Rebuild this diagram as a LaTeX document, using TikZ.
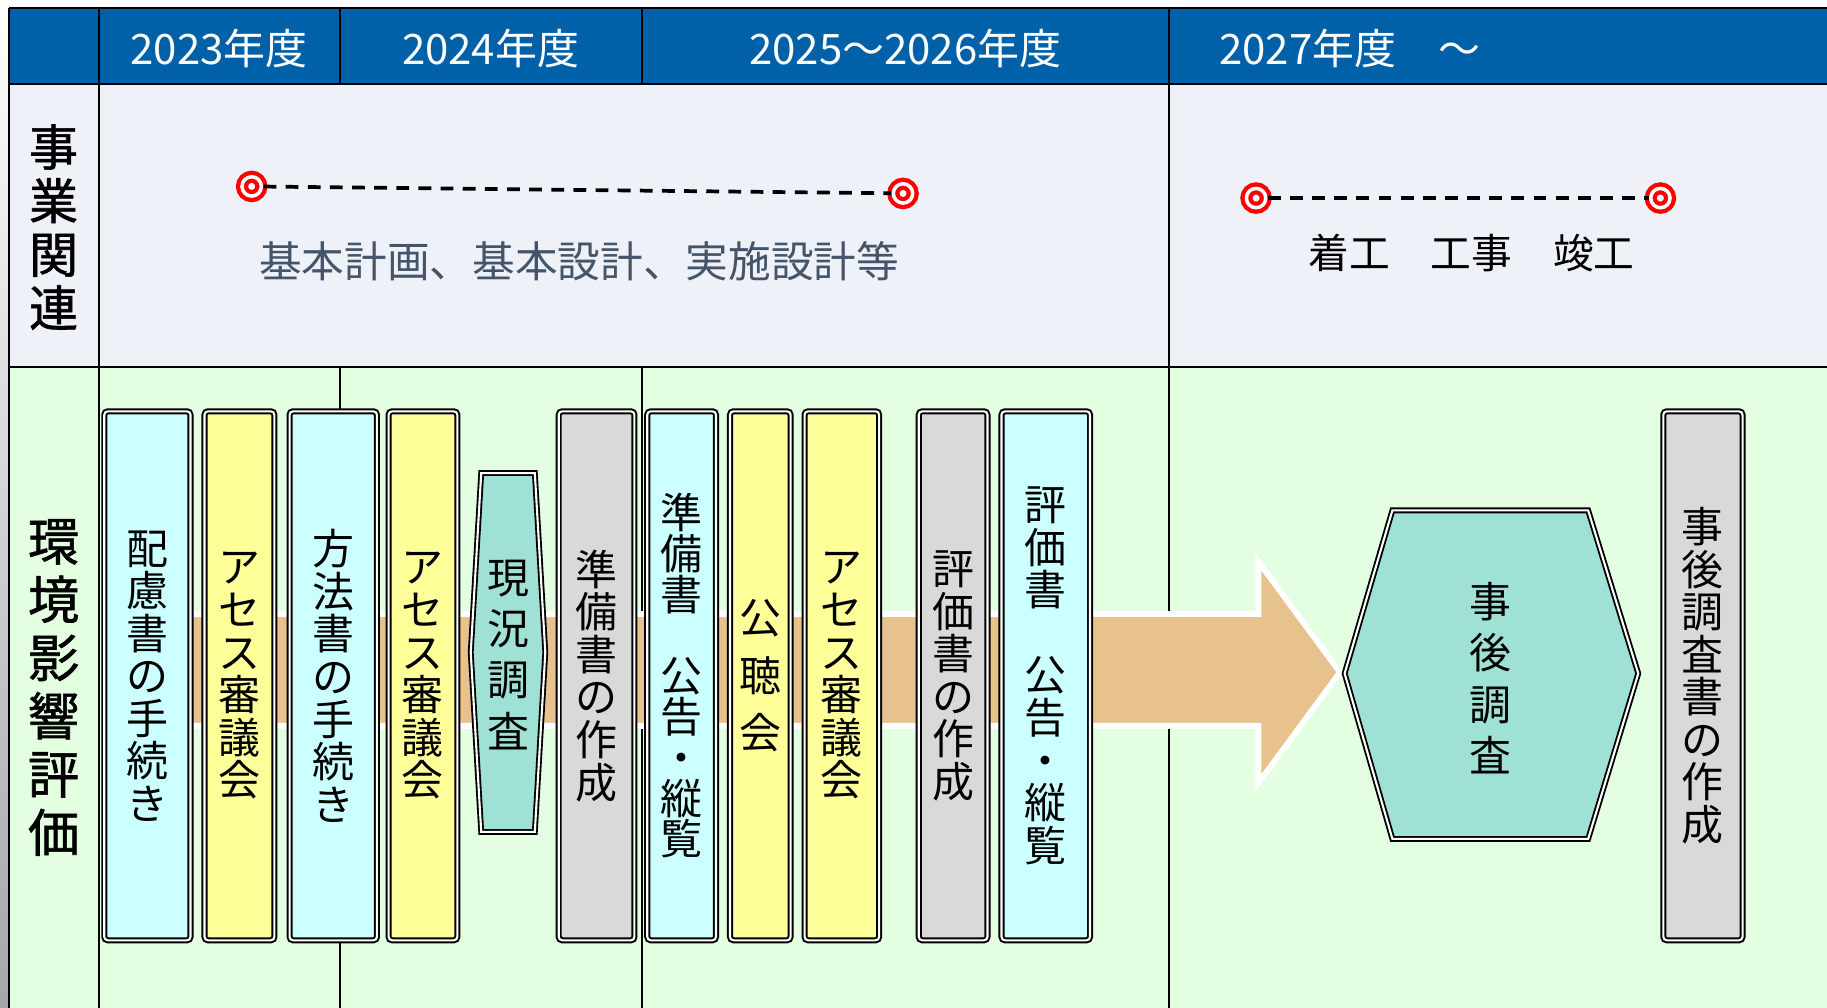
\documentclass[tikz,border=0pt]{standalone}
\usepackage{fontspec}
\setmainfont{Noto Sans CJK JP}
\newfontfamily\sidefont[FakeBold=1.2]{Noto Sans CJK JP}
\newcommand{\fsz}[2]{\fontsize{#1}{#2}\selectfont}
\definecolor{hdrblue}{RGB}{0,96,168}
\definecolor{rowone}{RGB}{238,241,247}
\definecolor{rowtwo}{RGB}{227,254,224}
\definecolor{boxcyan}{RGB}{204,255,255}
\definecolor{boxyellow}{RGB}{255,255,153}
\definecolor{boxgray}{RGB}{217,217,217}
\definecolor{hexteal}{RGB}{159,226,213}
\definecolor{arrowtan}{RGB}{232,194,140}
\definecolor{slate}{RGB}{68,84,106}
\definecolor{markred}{RGB}{255,0,0}
\begin{document}
\begin{tikzpicture}[x=0.5pt,y=-0.5pt,
  gridline/.style={draw=black,line width=1pt},
  hdrtext/.style={text=white,font=\fsz{18}{20},inner sep=0pt},
  sidelabel/.style={align=center,inner sep=0pt,font=\sidefont\fsz{21}{23}},
  procbox/.style={draw=black,double=white,line width=0.85pt,double distance=0.9pt,rounded corners=1.5pt,minimum height=227pt,inner sep=0pt,align=center,font=\fsz{18}{18.25}},
  cyanbox/.style={procbox,fill=boxcyan},
  yellowbox/.style={procbox,fill=boxyellow},
  graybox/.style={procbox,fill=boxgray},
  hexbox/.style={draw=black,double=white,line width=0.8pt,double distance=0.9pt,fill=hexteal,line join=miter},
  vtext/.style={align=center,inner sep=0pt,font=\fsz{18}{22}},
  target/.style={circle,draw=markred,double=white,line width=1.85pt,double distance=1.5pt,fill=white,minimum size=8.3pt,inner sep=0pt},
  dashline/.style={draw=black,line width=1.6pt,dash pattern=on 5.5pt off 4pt},
  bigarrow/.style={draw=white,line width=2.5pt,fill=arrowtan,line join=miter}
]
\useasboundingbox (0,0) rectangle (1568,865);
\fill[white] (0,0) rectangle (1568,865);
\shade[top color=white,bottom color=black!35] (0,7) rectangle (8,865);
% fills
\fill[hdrblue] (8,7) rectangle (1568,72);
\fill[rowone] (8,72) rectangle (1568,315);
\fill[rowtwo] (8,315) rectangle (1568,865);
% grid
\draw[gridline] (8,7) -- (1568,7);
\draw[gridline] (8,72) -- (1568,72);
\draw[gridline] (8,315) -- (1568,315);
\draw[gridline] (8,7) -- (8,865);
\draw[gridline] (85,7) -- (85,865);
\draw[gridline] (292,7) -- (292,72);
\draw[gridline] (551,7) -- (551,72);
\draw[gridline] (292,315) -- (292,865);
\draw[gridline] (551,315) -- (551,865);
\draw[gridline] (1003,7) -- (1003,865);
% header
\node[hdrtext] (y23) at (188,42) {2023年度};
\node[hdrtext] (y24) at (421,42) {2024年度};
\node[hdrtext] (y25) at (777,42) {2025～2026年度};
\node[hdrtext,anchor=west] (y27) at (1046,42) {2027年度　～};
% side labels
\node[sidelabel] (s1) at (46,195) {事\\業\\関\\連};
\node[sidelabel,font=\sidefont\fsz{22}{25}] (s2) at (46,590) {環\\境\\影\\響\\評\\価};
% row 1
\node[target] (m1) at (216,160) {};
\node[target] (m2) at (775,166) {};
\draw[dashline] (m1) -- (m2);
\node[text=slate,font=\fsz{18.3}{20},inner sep=0pt] (t1) at (497,224) {基本計画、基本設計、実施設計等};
\node[target] (m3) at (1078,170) {};
\node[target] (m4) at (1425,170) {};
\draw[dashline] (m3) -- (m4);
\node[font=\fsz{17.5}{20},inner sep=0pt] (t2) at (1263,217) {着工　工事　竣工};
% big arrow
\draw[bigarrow] (120,527) -- (1080,527) -- (1080,482) -- (1150,577) -- (1080,672) -- (1080,623) -- (120,623) -- cycle;
% boxes
\node[cyanbox,minimum width=37pt] (b1) at (126.5,580) {配\\慮\\書\\の\\手\\続\\き};
\node[yellowbox,minimum width=30pt] (b2) at (205.5,580) {ア\\セ\\ス\\審\\議\\会};
\node[cyanbox,minimum width=37.5pt] (b3) at (286,580) {方\\法\\書\\の\\手\\続\\き};
\node[yellowbox,minimum width=29.5pt] (b4) at (363,580) {ア\\セ\\ス\\審\\議\\会};
\draw[hexbox] (413,406) -- (459,406) -- (468,560) -- (459,714) -- (413,714) -- (404,560) -- cycle;
\node[vtext] (h1) at (436,562) {現\\況\\調\\査};
\node[graybox,minimum width=32.5pt] (b6) at (512,580) {準\\備\\書\\の\\作\\成};
\node[cyanbox,minimum width=29.5pt,font=\fsz{18}{17.5}] (b7) at (585,580) {準\\備\\書\\　\\公\\告\\・\\縦\\覧};
\node[yellowbox,minimum width=26pt,font=\fsz{18}{24.5}] (b8) at (652.5,580) {公\\聴\\会};
\node[yellowbox,minimum width=32pt] (b9) at (722.5,580) {ア\\セ\\ス\\審\\議\\会};
\node[graybox,minimum width=29.5pt] (b10) at (818,580) {評\\価\\書\\の\\作\\成};
\node[cyanbox,minimum width=38pt] (b11) at (897.5,580) {評\\価\\書\\　\\公\\告\\・\\縦\\覧};
\draw[hexbox] (1195,438) -- (1363,438) -- (1406,578) -- (1363,720) -- (1195,720) -- (1154,578) -- cycle;
\node[vtext] (h2) at (1279,582) {事\\後\\調\\査};
\node[graybox,minimum width=34pt] (b12) at (1461.5,580) {事\\後\\調\\査\\書\\の\\作\\成};
\end{tikzpicture}
\end{document}
